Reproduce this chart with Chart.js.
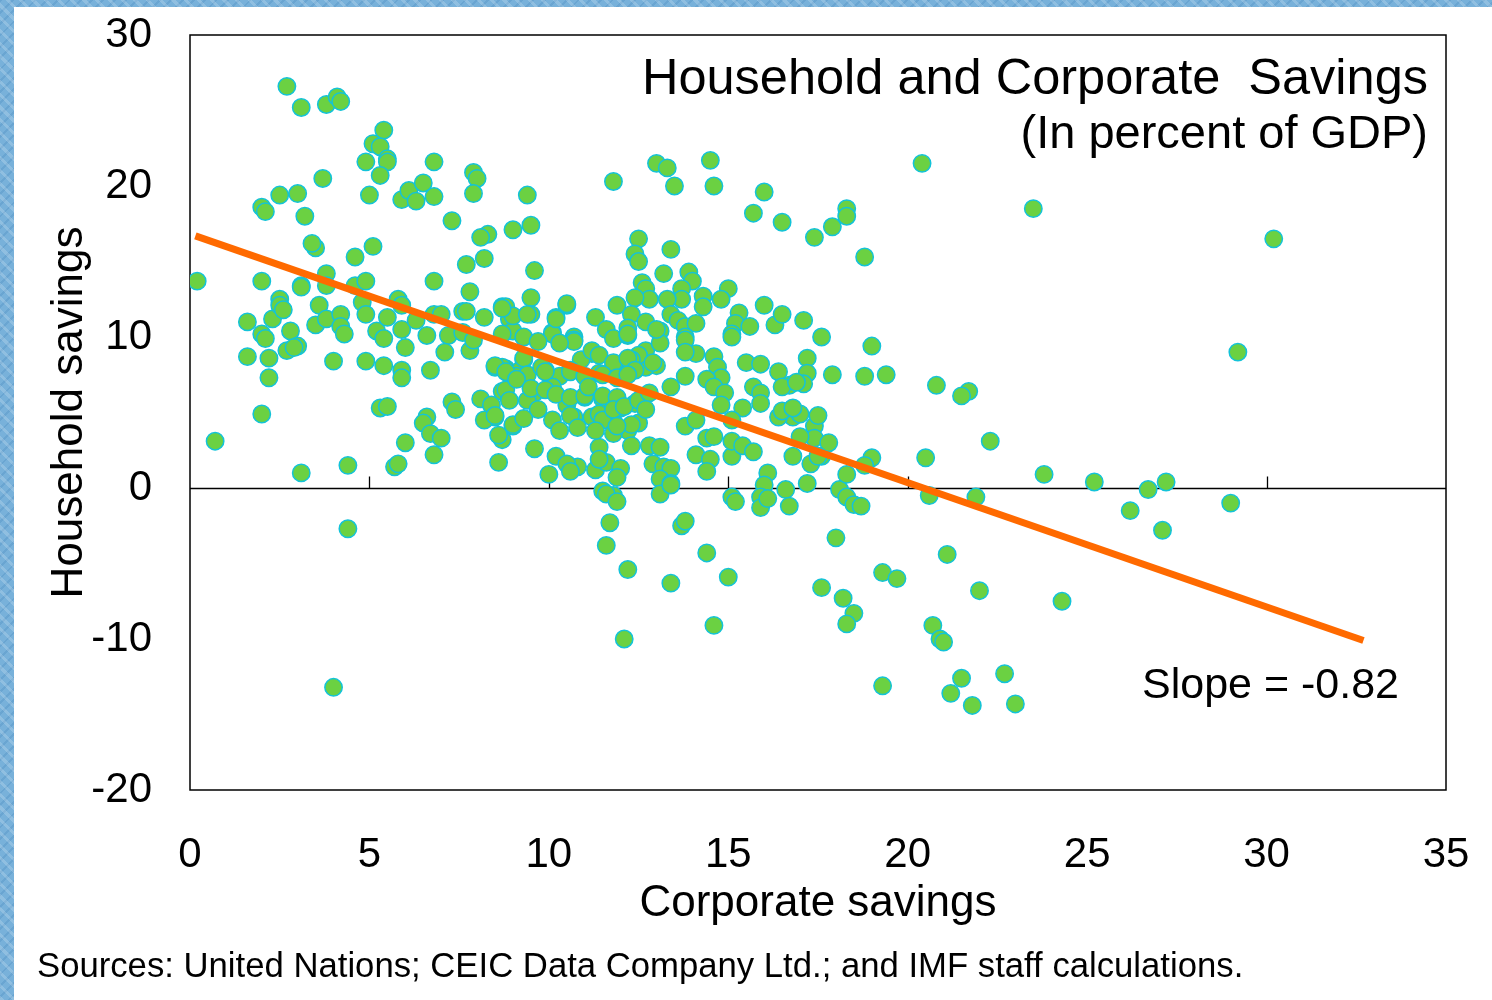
<!DOCTYPE html>
<html>
<head>
<meta charset="utf-8">
<script src="https://cdn.jsdelivr.net/npm/chart.js@4.4.1/dist/chart.umd.min.js"></script>
<style>
  body {
    margin: 0;
    width: 1492px;
    height: 1000px;
    overflow: hidden;
    background-color: #78b1da;
    background-image:
      repeating-linear-gradient(45deg, rgba(255,255,255,0.18) 0 3px, transparent 3px 9px),
      repeating-linear-gradient(-45deg, rgba(40,110,170,0.18) 0 2px, transparent 2px 8px);
  }
  #panel {
    position: absolute;
    left: 14px;
    top: 7px;
    width: 1478px;
    height: 993px;
    background: #fff;
  }
</style>
</head>
<body>
<div id="panel"><canvas id="chart" width="1478" height="993"></canvas></div>
<script>
// corporate savings (x) vs household savings (y), % of GDP
const observations = [
  [2.7,26.6],[3.1,25.2],[3.8,25.4],[4.1,25.9],[4.2,25.6],[5.4,23.7],[5.1,22.8],[5.3,22.6],[4.9,21.6],[5.5,21.8],
  [5.5,21.6],[5.3,20.7],[6.8,21.6],[3.7,20.5],[2.5,19.4],[3.0,19.5],[2.0,18.6],[2.1,18.3],[3.2,18.0],[5.0,19.4],
  [5.9,19.1],[6.1,19.7],[6.5,20.2],[6.3,19.0],[6.8,19.3],[7.9,20.9],[8.0,20.5],[7.9,19.5],[9.4,19.4],[7.3,17.7],
  [9.0,17.1],[8.3,16.8],[8.1,16.6],[8.2,15.2],[7.7,14.8],[7.8,13.0],[6.8,13.7],[5.1,16.0],[4.6,15.3],[3.5,15.9],
  [3.4,16.2],[0.2,13.7],[2.0,13.7],[3.1,13.4],[3.1,13.3],[3.8,14.2],[3.8,13.4],[4.6,13.4],[4.9,13.7],[5.8,12.5],
  [2.5,12.5],
  [1.6,11.0],[2.3,11.2],[2.5,12.1],[2.6,11.8],[2.0,10.2],[2.1,9.9],[2.8,10.4],[1.6,8.7],[2.2,8.6],[2.2,7.3],
  [2.7,9.1],[3.0,9.4],[2.9,9.3],[2.0,4.9],[0.7,3.1],[3.1,1.0],[4.4,1.5],[4.0,8.4],[3.5,10.8],[3.6,12.1],
  [3.8,11.2],[4.2,11.5],[4.2,10.7],[4.3,10.2],[4.8,12.3],[4.9,11.5],[4.9,8.4],[5.4,8.1],[5.2,10.4],[5.5,11.3],
  [5.4,9.9],[5.9,10.5],[5.9,12.1],[6.0,9.3],[5.9,7.8],[5.9,7.3],[5.3,5.3],[5.5,5.4],[6.0,3.0],[5.7,1.4],
  [5.8,1.6],[6.7,7.8],[6.6,10.1],[6.3,11.1],[6.8,11.5],[7.0,11.5],[7.2,10.1],[7.1,9.0],[7.6,11.7],[7.6,10.3],
  [7.8,9.1],[6.6,4.7],[6.5,4.3],[6.7,3.6],[7.0,3.3],[6.8,2.2],[7.3,5.7],[7.4,5.2],[8.2,11.3],[8.1,5.9],
  [8.4,5.5],[8.5,4.7],[8.2,4.5],[8.7,3.2],[8.6,1.7],[8.7,12.0],[8.9,11.2],[9.0,10.4],[8.5,8.0],[8.8,7.9],
  [9.1,7.6],[8.7,6.4],[9.0,4.1],
  [9.5,17.4],[9.6,14.4],[11.8,20.3],[13.0,21.5],[13.3,21.2],[13.5,20.0],[14.5,21.7],[14.6,20.0],[16.0,19.6],[15.7,18.2],
  [16.5,17.6],[17.4,16.6],[17.9,17.3],[12.5,16.5],[12.4,15.5],[12.5,15.0],[13.4,15.8],[13.2,14.2],[13.9,14.3],[14.0,13.7],
  [12.6,13.6],[12.7,13.2],[12.8,12.5],[13.7,13.2],[13.7,12.5],[13.3,12.5],[14.3,12.7],[14.3,12.0],[15.0,13.2],[14.8,12.5],
  [12.4,12.6],[11.9,12.1],[10.5,12.1],[10.5,12.2],[9.5,12.6],[8.8,12.0],[9.0,11.4],[9.5,11.5],[10.2,11.3],[10.1,10.3],
  [10.7,10.0],[11.3,11.3],[11.6,10.5],[12.3,11.5],[12.2,10.6],[12.7,11.0],[13.1,10.4],[13.4,11.5],[13.6,11.1],[13.8,10.7],
  [14.1,10.9],[13.8,10.0],[15.3,11.6],[15.2,10.9],[15.6,10.7],[16.0,12.1],[16.3,10.8],[16.5,11.5],[17.1,11.1],[17.6,10.0],
  [15.1,10.2],
  [10.1,10.2],[10.7,9.8],[11.8,9.9],[12.2,10.1],[12.7,9.1],[13.1,9.6],[13.8,9.8],[14.1,8.9],[13.8,9.0],[14.6,8.7],
  [15.1,10.0],[15.5,8.3],[15.9,8.2],[16.4,7.7],[17.2,8.6],[17.2,7.6],[17.1,6.9],[16.7,6.8],[16.5,6.7],[15.7,6.7],
  [15.9,6.3],[15.9,5.6],[15.4,5.3],[14.7,8.0],[14.8,7.3],[14.4,7.2],[14.6,6.7],[14.9,6.3],[14.8,5.5],[13.8,7.4],
  [13.4,6.7],[12.6,6.0],[12.4,5.6],[13.0,8.1],[12.7,8.0],[12.5,8.8],[12.3,8.5],[12.2,7.8],[11.8,8.0],[11.4,7.6],
  [11.2,8.9],[10.9,8.5],[10.6,7.8],[10.3,7.4],[10.1,6.7],[9.9,7.8],[9.6,6.3],[9.3,8.5],[9.2,7.8],[8.7,8.0],
  [8.8,6.5],[9.1,7.4],[9.4,5.8],[9.7,5.2],[9.0,4.2],[9.3,4.6],[10.1,4.5],[10.5,5.5],[11.0,6.0],[10.7,4.7],
  [11.2,4.7],[11.5,5.9],[12.0,5.3],[11.4,4.9],[11.8,4.4],[12.2,3.8],[12.5,4.3],[11.8,3.6],[11.4,2.7],[12.3,2.8],
  [12.8,2.8],[13.1,2.7],[9.6,2.6],[10.2,2.1],[10.0,0.9],[10.8,1.4],[11.3,1.2],[11.6,1.7],[12.0,1.3],[11.9,0.7],
  [12.9,1.6],[13.2,1.4],[13.4,1.3],[13.1,0.6],[13.4,0.3],[11.5,-0.2],[11.8,-0.5],[13.1,-0.4],[13.8,4.1],[14.1,4.5],
  [14.4,3.3],[14.1,2.2],[14.5,1.9],[14.4,1.1],[15.1,2.1],[15.1,3.1],[15.4,2.8],[15.7,2.4],[16.1,1.0],[16.8,2.1],
  [17.3,1.6],[17.2,0.3],[17.6,2.1],[16.0,0.2],[16.6,-0.1],[15.9,-0.6],[15.1,-0.6],[16.8,4.7],[17.4,4.1],[17.4,3.3],
  [16.4,4.7],[16.5,5.1],[17.0,4.9],[17.5,4.8],[15.1,4.5],[14.6,3.4],[11.4,1.9],[10.5,1.6],[10.6,1.1],
  [11.6,-0.4],[11.9,-0.9],[11.7,-2.3],[11.6,-3.8],[12.2,-5.4],[12.1,-10.0],[13.4,0.2],[13.7,-2.5],[13.8,-2.2],[14.4,-4.3],
  [13.4,-6.3],[15.0,-5.9],[14.6,-9.1],[15.2,-0.9],[15.9,-1.3],[16.1,-0.7],[16.7,-1.2],[18.1,-0.1],[18.3,-0.6],[18.5,-1.1],
  [18.7,-1.2],[18.0,-3.3],[17.6,-6.6],[18.2,-7.3],[18.5,-8.3],[18.3,-9.0],[19.3,-13.1],[19.3,-5.6],[19.7,-6.0],
  [22.3,3.1],[20.5,2.0],[23.8,0.9],[20.6,-0.5],[21.9,-0.6],[25.2,0.4],[26.7,-0.1],[27.2,0.4],[26.2,-1.5],[27.1,-2.8],
  [29.0,-1.0],[21.1,-4.4],[22.0,-6.8],[24.3,-7.5],[20.7,-9.1],[20.9,-10.0],[21.0,-10.2],[21.5,-12.6],[21.2,-13.6],[21.8,-14.4],
  [22.7,-12.3],[23.0,-14.3],
  [20.4,21.5],[23.5,18.5],[18.3,18.5],[18.3,18.0],[18.8,15.3],[19.0,9.4],[17.9,7.5],[18.8,7.4],[19.4,7.5],[16.9,7.0],
  [20.8,6.8],[21.7,6.4],[21.5,6.1],[16.8,5.3],[17.0,3.4],[17.8,3.0],[17.5,2.1],[19.0,2.0],[18.8,1.5],[18.3,0.9],
  [30.2,16.5],[29.2,9.0],[4.4,-2.7],[4.0,-13.2],
  [7.7,11.7],[8.7,11.9],[9.4,11.5],[8.7,10.2],[9.3,10.0],[9.7,9.7],[10.2,11.2],[10.7,9.7],[10.3,9.6],[7.9,9.8],
  [13.0,10.5],[12.2,10.2],[11.2,9.1],[11.4,8.8],[11.8,8.3],[12.2,8.6],[12.4,7.8],[12.9,8.3],[8.5,8.1],[8.8,7.7],
  [9.3,8.6],[9.4,7.5],[9.8,8.0],[9.9,7.7],[10.6,7.7],[11.0,7.4],[11.5,7.5],[11.9,7.3],[12.2,7.5],[9.1,7.2],
  [9.5,6.6],[9.9,6.5],[10.2,6.2],[10.6,6.0],[11.0,6.1],[11.1,6.7],[11.5,6.1],[11.9,6.0],[8.5,4.8],[8.9,5.8],
  [10.6,4.8],[11.5,4.5],[11.8,5.2],[12.1,5.4],[12.5,5.8],[12.8,6.3],[12.7,5.2],[12.3,4.2],[11.9,4.1],[8.6,3.5],
  [10.3,3.8],[10.8,4.0],[11.3,3.8]
];

// fitted line, ends (slope -0.82)
const trendX = [0.15, 32.7];
const trendY = [16.7, -10.1];

const xTickMarks = [5, 10, 15, 20, 25, 30];
const chartTitle = "Household and Corporate  Savings";
const chartSubtitle = "(In percent of GDP)";
const slopeLabel = "Slope = -0.82";
const sourceNote = "Sources: United Nations; CEIC Data Company Ltd.; and IMF staff calculations.";

const fontFamily = "'Liberation Sans', Arial, sans-serif";

const framePlugin = {
  id: "frame",
  beforeDatasetsDraw(chart) {
    const { ctx, chartArea: a, scales: { x, y } } = chart;
    ctx.save();
    ctx.strokeStyle = "#000";
    ctx.lineWidth = 1.3;
    const y0 = Math.round(y.getPixelForValue(0)) + 0.5;
    ctx.beginPath();
    ctx.moveTo(a.left, y0);
    ctx.lineTo(a.right, y0);
    xTickMarks.forEach(v => {
      const px = Math.round(x.getPixelForValue(v)) + 0.5;
      ctx.moveTo(px, y0);
      ctx.lineTo(px, y0 - 12);
    });
    ctx.stroke();
    ctx.lineWidth = 1.5;
    ctx.strokeRect(a.left, a.top, a.width, a.height);
    ctx.restore();
  },
  afterDraw(chart) {
    const { ctx, chartArea: a } = chart;
    ctx.save();
    ctx.fillStyle = "#000";
    ctx.textBaseline = "middle";
    ctx.textAlign = "right";
    ctx.font = "50.5px " + fontFamily;
    ctx.fillText(chartTitle, a.right - 18, 73);
    ctx.font = "47px " + fontFamily;
    ctx.fillText(chartSubtitle, a.right - 18, 128);
    ctx.textAlign = "left";
    ctx.font = "43px " + fontFamily;
    ctx.fillText(slopeLabel, 1128, 679);
    ctx.font = "34.7px " + fontFamily;
    ctx.fillText(sourceNote, 23, 960);
    ctx.restore();
  }
};

new Chart("chart", {
  type: "scatter",
  data: {
    datasets: [
      {
        label: "Fit",
        type: "line",
        data: trendX.map((v, i) => ({ x: v, y: trendY[i] })),
        borderColor: "#FF6A00",
        borderWidth: 7,
        pointRadius: 0,
        fill: false,
        order: 0
      },
      {
        label: "Countries",
        data: observations.map(p => ({ x: p[0], y: p[1] })),
        backgroundColor: "#6BD142",
        borderColor: "#13C3D9",
        borderWidth: 1.5,
        pointRadius: 8.7,
        order: 1
      }
    ]
  },
  options: {
    responsive: false,
    animation: false,
    layout: { padding: { top: 28, right: 46, left: 0, bottom: 70 } },
    plugins: {
      legend: { display: false },
      tooltip: { enabled: false }
    },
    scales: {
      x: {
        type: "linear",
        min: 0,
        max: 35,
        ticks: { stepSize: 5, padding: 0, color: "#000", font: { family: fontFamily, size: 42 } },
        grid: { display: true, drawOnChartArea: false, drawTicks: true, tickLength: 40, color: "rgba(0,0,0,0)" },
        border: { display: false },
        title: { display: true, text: "Corporate savings", color: "#000", padding: 0, font: { family: fontFamily, size: 44 } },
        afterFit(scale) { scale.height = 140; }
      },
      y: {
        min: -20,
        max: 30,
        ticks: { stepSize: 10, padding: 0, color: "#000", font: { family: fontFamily, size: 42 } },
        grid: { display: true, drawOnChartArea: false, drawTicks: true, tickLength: 38, color: "rgba(0,0,0,0)" },
        border: { display: false },
        title: { display: true, text: "Household savings", color: "#000", padding: { top: 29, bottom: 0 }, font: { family: fontFamily, size: 44 } },
        afterFit(scale) { scale.width = 176; }
      }
    }
  },
  plugins: [framePlugin]
});
</script>
</body>
</html>
